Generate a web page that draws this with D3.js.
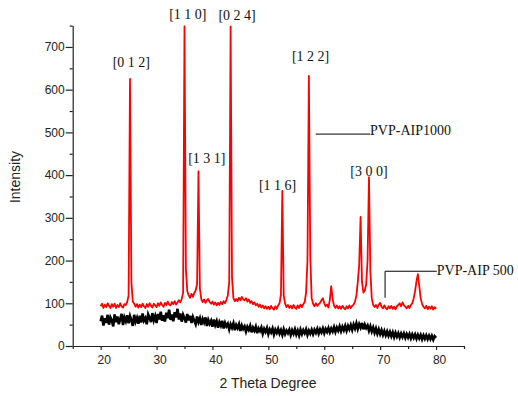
<!DOCTYPE html>
<html><head><meta charset="utf-8">
<script src="https://cdn.jsdelivr.net/npm/d3@7"></script>
<style>
html,body{margin:0;padding:0;background:#fff;}
svg{display:block;}
</style>
</head><body>
<svg id="chart" width="518" height="396"></svg>
<script>
// ---- data (2θ grid: 20 → 80, step 0.25°) ----
const thetaStart = 20, thetaStep = 0.25;

// PVP-AIP1000 (red)
const redIntensity = [
  93, 99, 89, 97,   // 20
  91, 100, 94, 89,  // 21
  98, 92, 99, 89,   // 22
  96, 91, 100, 93,  // 23
  90, 98, 96, 103,  // 24
  118, 625, 150, 104, // 25
  99, 92, 98, 90,   // 26
  97, 91, 99, 93,   // 27
  89, 98, 92, 100,  // 28
  94, 90, 99, 95,   // 29
  91, 100, 94, 102, // 30
  96, 92, 101, 96,  // 31
  104, 97, 95, 103, // 32
  98, 105, 97, 102, // 33
  107, 102, 110, 125, // 34
  748, 180, 128, 118, // 35
  113, 122, 115, 124, // 36
  130, 145, 409, 135, // 37
  110, 103, 109, 101, // 38
  107, 110, 103, 99,  // 39
  104, 97, 102, 95,   // 40
  101, 96, 103, 98,   // 41
  105, 100, 108, 118, // 42
  150, 748, 160, 112, // 43
  105, 110, 105, 113, // 44
  107, 115, 109, 107, // 45
  112, 104, 109, 101, // 46
  105, 98, 102, 95,   // 47
  99, 92, 97, 90,     // 48
  95, 88, 93, 87,     // 49
  92, 86, 94, 88,     // 50
  85, 93, 87, 95,     // 51
  100, 120, 363, 118, // 52
  99, 91, 96, 89,     // 53
  94, 88, 96, 90,     // 54
  87, 95, 89, 97,     // 55
  91, 98, 103, 125,   // 56
  200, 632, 210, 112, // 57
  99, 93, 100, 94,    // 58
  98, 101, 107, 112,  // 59
  100, 93, 97, 90,    // 60
  108, 140, 110, 94,  // 61
  89, 95, 88, 93,     // 62
  87, 94, 89, 86,     // 63
  93, 88, 95, 89,     // 64
  94, 97, 104, 118,   // 65
  150, 190, 302, 150, // 66
  125, 130, 145, 200, // 67
  395, 175, 112, 96,  // 68
  91, 96, 89, 97,     // 69
  101, 92, 88, 95,    // 70
  89, 86, 93, 88,     // 71
  94, 87, 92, 86,     // 72
  93, 96, 100, 93,    // 73
  102, 95, 92, 88,    // 74
  94, 89, 96, 100,    // 75
  112, 128, 152, 168, // 76
  140, 112, 98, 92,   // 77
  88, 94, 86, 92,     // 78
  87, 93, 85, 91,     // 79
  87                  // 80
];

// PVP-AIP 500 (black)
const blackIntensity = [
  58, 71, 48, 65,  // 20
  54, 73, 50, 67,  // 21
  60, 46, 74, 56,  // 22
  69, 51, 63, 75,  // 23
  49, 67, 58, 72,  // 24
  53, 70, 60, 47,  // 25
  73, 57, 66, 52,  // 26
  71, 55, 76, 59,  // 27
  65, 51, 74, 66,  // 28
  56, 77, 60, 70,  // 29
  54, 75, 62, 80,  // 30
  59, 72, 57, 78,  // 31
  65, 85, 61, 74,  // 32
  58, 79, 67, 87,  // 33
  62, 76, 57, 73,  // 34
  65, 55, 75, 60,  // 35
  71, 54, 68, 59,  // 36
  51, 69, 56, 65,  // 37
  49, 63, 55, 67,  // 38
  47, 61, 52, 59,  // 39
  45, 62, 49, 58,  // 40
  43, 56, 48, 59,  // 41
  41, 54, 46, 52,  // 42
  39, 51, 43, 53,  // 43
  37, 49, 42, 51,  // 44
  35, 48, 40, 46,  // 45
  34, 45, 38, 47,  // 46
  32, 43, 36, 45,  // 47
  30, 41, 35, 43,  // 48
  29, 40, 33, 42,  // 49
  28, 39, 32, 41,  // 50
  27, 38, 31, 40,  // 51
  29, 37, 26, 39,  // 52
  28, 36, 30, 38,  // 53
  26, 37, 29, 39,  // 54
  27, 36, 25, 38,  // 55
  28, 37, 30, 39,  // 56
  26, 36, 29, 38,  // 57
  28, 38, 31, 40,  // 58
  29, 39, 32, 41,  // 59
  30, 40, 33, 42,  // 60
  32, 41, 34, 44,  // 61
  33, 43, 36, 46,  // 62
  35, 45, 37, 47,  // 63
  36, 47, 39, 49,  // 64
  38, 50, 41, 53,  // 65
  40, 51, 43, 54,  // 66
  39, 50, 42, 48,  // 67
  36, 46, 34, 43,  // 68
  31, 41, 29, 39,  // 69
  28, 37, 26, 35,  // 70
  25, 34, 24, 33,  // 71
  23, 32, 21, 31,  // 72
  22, 30, 20, 29,  // 73
  21, 29, 19, 28,  // 74
  20, 28, 18, 27,  // 75
  19, 27, 17, 26,  // 76
  18, 26, 16, 25,  // 77
  17, 25, 16, 24,  // 78
  16, 24, 15, 23,  // 79
  19               // 80
];

const xMajorTicks = [20, 30, 40, 50, 60, 70, 80];
const xMinorTicks = [15, 25, 35, 45, 55, 65, 75, 85];
const yMajorTicks = [0, 100, 200, 300, 400, 500, 600, 700];
const yMinorTicks = [50, 150, 250, 350, 450, 550, 650, 750];

// peak labels: [text, 2θ, intensity]
const peakLabels = [
  ["[0 1 2]", 25.49, 653],
  ["[1 1 0]", 35.6, 766],
  ["[0 2 4]", 44.4, 762],
  ["[1 3 1]", 39.0, 428],
  ["[1 1 6]", 51.65, 364],
  ["[1 2 2]", 57.55, 668],
  ["[3 0 0]", 68.0, 399]
];
// series labels: [text, text 2θ, text intensity, leader points]
const seriesLabels = [
  ["PVP-AIP1000", 68.2, 493, [[58.48, 496], [68.2, 496]]],
  ["PVP-AIP 500", 80.13, 167, [[70.88, 113], [70.88, 175], [80.13, 175]]]
];

// ---- drawing ----
const svg = d3.select("#chart");
const x = d3.scaleLinear().domain([15, 85]).range([72.7, 464]);
const y = d3.scaleLinear().domain([0, 750]).range([346, 25.6]);

const toPts = arr => arr.map((v, i) => [thetaStart + i * thetaStep, v]);
const line = d3.line().x(d => x(d[0])).y(d => y(d[1]));

svg.append("path").datum(toPts(blackIntensity))
  .attr("d", line).attr("fill", "none").attr("stroke", "#000")
  .attr("stroke-width", 2.6).attr("stroke-linejoin", "miter");
svg.append("path").datum(toPts(redIntensity))
  .attr("d", line).attr("fill", "none").attr("stroke", "#ff0000")
  .attr("stroke-width", 1.8).attr("stroke-linejoin", "round");

// axes
const axisColor = "#222";
const yAxisG = svg.append("g").attr("transform", `translate(${x(15)},0)`);
yAxisG.call(d3.axisLeft(y).tickValues(yMajorTicks).tickSize(7).tickSizeOuter(0).tickPadding(1).tickFormat(d3.format("d")));
const yMinorG = svg.append("g").attr("transform", `translate(${x(15)},0)`);
yMinorG.call(d3.axisLeft(y).tickValues(yMinorTicks).tickSize(3).tickSizeOuter(0).tickFormat(""));
yMinorG.select(".domain").remove();

const xAxisG = svg.append("g").attr("transform", `translate(0,${y(0)})`);
xAxisG.call(d3.axisBottom(x).tickValues(xMajorTicks).tickSize(4).tickSizeOuter(0).tickPadding(5).tickFormat(d3.format("d")));
const xMinorG = svg.append("g").attr("transform", `translate(0,${y(0)})`);
xMinorG.call(d3.axisBottom(x).tickValues(xMinorTicks).tickSize(3).tickSizeOuter(0).tickFormat(""));
xMinorG.select(".domain").remove();

[yAxisG, yMinorG, xAxisG, xMinorG].forEach(g => {
  g.selectAll("path,line").attr("stroke", axisColor).attr("stroke-width", 1.2);
  g.selectAll("text").attr("fill", axisColor)
    .style("font-family", "'Liberation Sans', Arial, sans-serif").style("font-size", "12px");
});
xAxisG.selectAll("text").attr("dx", 3);

// axis titles
svg.append("text").attr("transform", "translate(20,177) rotate(-90)")
  .attr("text-anchor", "middle").attr("fill", axisColor)
  .style("font-family", "'Liberation Sans', Arial, sans-serif").style("font-size", "14px")
  .text("Intensity");
svg.append("text").attr("x", 268).attr("y", 388)
  .attr("text-anchor", "middle").attr("fill", axisColor)
  .style("font-family", "'Liberation Sans', Arial, sans-serif").style("font-size", "14px")
  .text("2 Theta Degree");

// peak labels
svg.selectAll("text.peak").data(peakLabels).join("text").attr("class", "peak")
  .attr("x", d => x(d[1])).attr("y", d => y(d[2]))
  .attr("text-anchor", "middle").attr("fill", "#111")
  .style("font-family", "'Liberation Serif', 'Times New Roman', serif").style("font-size", "14px")
  .text(d => d[0]);

// series labels with leader lines
const leader = d3.line().x(d => x(d[0])).y(d => y(d[1]));
seriesLabels.forEach(s => {
  svg.append("path").attr("d", leader(s[3])).attr("fill", "none")
    .attr("stroke", "#000").attr("stroke-width", 1);
  svg.append("text").attr("x", x(s[1])).attr("y", y(s[2])).attr("fill", "#111")
    .style("font-family", "'Liberation Serif', 'Times New Roman', serif").style("font-size", "14px")
    .text(s[0]);
});
</script>
</body></html>
